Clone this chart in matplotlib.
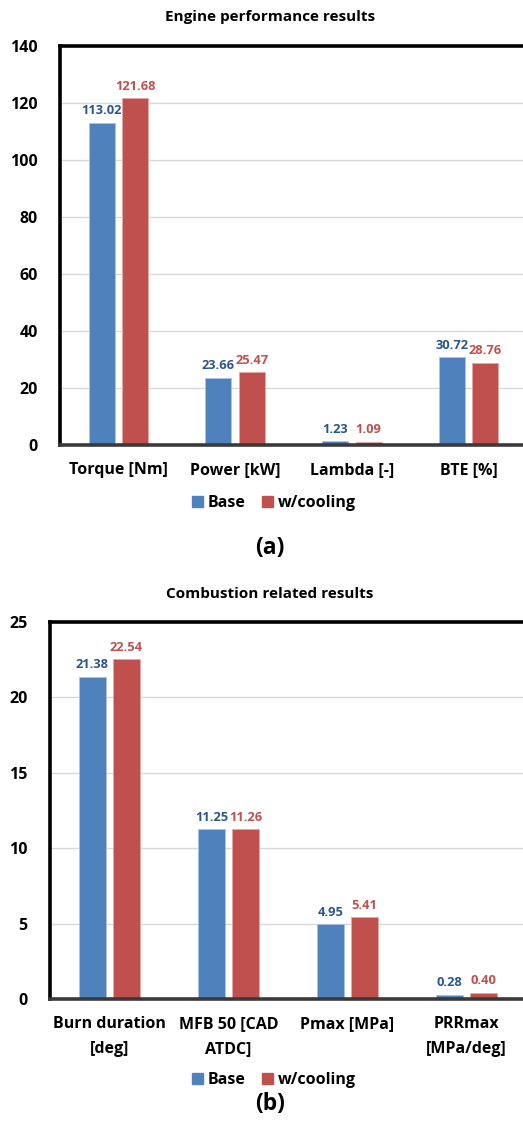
import matplotlib.pyplot as plt
from matplotlib.patches import Patch
import numpy as np

# engine performance
perf_labels = ["Torque [Nm]", "Power [kW]", "Lambda [-]", "BTE [%]"]
perf_base = [113.02, 23.66, 1.23, 30.72]
perf_cool = [121.68, 25.47, 1.09, 28.76]

# combustion
comb_labels = ["Burn duration\n[deg]", "MFB 50 [CAD\nATDC]", "Pmax [MPa]", "PRRmax\n[MPa/deg]"]
comb_base = [21.38, 11.25, 4.95, 0.28]
comb_cool = [22.54, 11.26, 5.41, 0.40]

BLUE = "#4F81BD"
RED = "#C0504D"
BLUE_TXT = "#2B5590"
RED_TXT = "#C0504D"
FONT = "Open Sans"

plt.rcParams["font.family"] = [FONT, "DejaVu Sans"]
plt.rcParams["font.weight"] = "bold"

W, H = 523, 1143
fig = plt.figure(figsize=(W / 100, H / 100), dpi=100)
fig.set_facecolor("white")


def px_box(left, top, right, bottom):
    return [left / W, 1 - bottom / H, (right - left) / W, (bottom - top) / H]


def draw_panel(ax, labels, base, cool, ymax, step, fmt="%.2f"):
    x = np.arange(len(labels))
    bw = 0.223
    off = 0.143
    b1 = ax.bar(x - off, base, bw, color=BLUE, edgecolor="#A9C4E6", linewidth=0.7, zorder=2)
    b2 = ax.bar(x + off, cool, bw, color=RED, edgecolor="#E3A9A7", linewidth=0.7, zorder=2)
    for bars, vals, c in ((b1, base, BLUE_TXT), (b2, cool, RED_TXT)):
        for r, v in zip(bars, vals):
            ax.annotate(fmt % v, (r.get_x() + r.get_width() / 2, v),
                        xytext=(0, 4), textcoords="offset points",
                        ha="center", va="bottom", fontsize=9.3,
                        fontweight="bold", color=c)
    ax.set_xlim(-0.5, 3.5)
    ax.set_ylim(0, ymax)
    ax.set_yticks(np.arange(0, ymax + step / 2, step))
    ax.set_xticks(x)
    ax.set_xticklabels(labels, fontsize=11.5, fontweight="bold", linespacing=1.75)
    ax.tick_params(axis="y", length=0, pad=16, labelsize=11.5)
    ax.tick_params(axis="x", length=0, pad=12)
    for t in ax.get_yticklabels():
        t.set_fontweight("bold")
    ax.yaxis.grid(True, color="#D9D9D9", lw=1, zorder=0)
    ax.set_axisbelow(True)
    ax.spines["top"].set_linewidth(2.6)
    ax.spines["left"].set_linewidth(2.6)
    ax.spines["top"].set_color("black")
    ax.spines["left"].set_color("black")
    ax.spines["bottom"].set_linewidth(2.6)
    ax.spines["bottom"].set_color("#3A3A3A")
    ax.spines["right"].set_linewidth(2.6)


ax1 = fig.add_axes(px_box(60, 46, 527, 445))
draw_panel(ax1, perf_labels, perf_base, perf_cool, 140, 20)
ax2 = fig.add_axes(px_box(50, 622, 526, 999))
draw_panel(ax2, comb_labels, comb_base, comb_cool, 25, 5)

fig.text(270 / W, 1 - 17 / H, "Engine performance results", ha="center", va="center",
         fontsize=11, fontweight="bold")
fig.text(270 / W, 1 - 594 / H, "Combustion related results", ha="center", va="center",
         fontsize=11, fontweight="bold")

handles = [Patch(color=BLUE, label="Base"), Patch(color=RED, label="w/cooling")]
for yc in (503, 1080):
    fig.legend(handles=handles, loc="center", bbox_to_anchor=(274 / W, 1 - yc / H),
               ncol=2, frameon=False, handlelength=0.7, handleheight=0.7,
               handletextpad=0.3, columnspacing=1.0, prop={"weight": "bold", "size": 11.5})

fig.text(270 / W, 1 - 548 / H, "(a)", ha="center", va="center", fontsize=16.5, fontweight="bold")
fig.text(270 / W, 1 - 1104 / H, "(b)", ha="center", va="center", fontsize=16.5, fontweight="bold")

fig.savefig("out.png", dpi=100)
